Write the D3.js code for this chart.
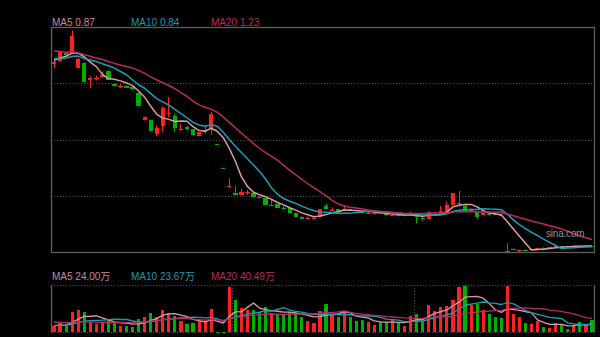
<!DOCTYPE html>
<html>
<head>
<meta charset="utf-8">
<script src="https://cdn.jsdelivr.net/npm/d3@7"></script>
<style>
  html, body { margin: 0; padding: 0; background: #000; }
  svg { display: block; }
  text { font-family: "Liberation Sans", Arial, "Noto Sans CJK SC", sans-serif; }
</style>
</head>
<body>
<svg id="chart" width="600" height="337"></svg>
<script>
// Daily sessions, oldest first
const opens = [10.89,11.05,11.49,11.46,10.67,10.94,9.99,10.06,10.17,10.50,
  9.80,9.66,9.68,9.60,9.31,7.79,7.82,7.05,7.46,8.16,
  8.01,7.24,7.42,7.29,6.91,7.13,7.37,6.49,5.19,4.15,
  3.77,3.66,3.81,3.81,3.59,3.50,3.11,3.17,2.96,2.95,
  2.71,2.49,2.42,2.39,2.45,3.08,2.84,2.89,2.87,2.89,
  2.83,2.82,2.69,2.64,2.68,2.64,2.56,2.58,2.54,2.56,
  2.62,2.40,2.38,2.61,2.64,2.76,3.13,3.19,3.08,2.84,
  2.76,2.58,2.66,2.62,2.60,0.55,0.66,0.58,0.68,0.68,
  0.68,0.79,0.77,0.80,0.88,0.87,0.85,0.89,0.86,0.89];
const highs = [11.11,11.63,11.52,12.73,11.22,10.97,10.20,10.25,10.48,10.53,
  9.81,9.77,9.69,9.66,9.32,8.00,7.83,7.51,8.56,9.07,
  8.15,7.60,7.48,7.31,7.15,7.48,8.25,6.49,5.19,4.60,
  4.18,4.05,3.96,3.82,3.60,3.52,3.41,3.19,3.08,2.97,
  2.72,2.50,2.50,2.44,2.91,3.19,3.00,2.91,3.13,2.91,
  2.86,2.83,2.77,2.72,2.72,2.66,2.66,2.60,2.64,2.76,
  2.66,2.49,2.78,2.72,3.08,3.31,3.80,3.90,3.19,2.94,
  2.77,2.72,2.70,2.66,2.64,1.02,0.75,0.66,0.69,0.71,
  0.76,0.80,0.81,0.88,0.89,0.88,0.90,0.90,0.89,0.90];
const lows = [10.67,11.00,11.35,11.44,10.64,9.87,9.57,9.98,10.14,10.01,
  9.66,9.57,9.57,9.44,8.55,7.78,7.17,6.91,7.13,7.97,
  7.15,7.23,7.24,6.95,6.90,7.05,6.98,6.49,5.19,4.15,
  3.70,3.65,3.68,3.57,3.49,3.11,3.08,2.95,2.86,2.69,
  2.47,2.36,2.39,2.36,2.44,2.88,2.82,2.75,2.82,2.80,
  2.78,2.66,2.66,2.62,2.64,2.55,2.55,2.50,2.51,2.53,
  2.12,2.27,2.36,2.58,2.62,2.75,3.11,3.04,2.82,2.80,
  2.35,2.55,2.60,2.57,2.55,0.55,0.64,0.56,0.65,0.67,
  0.67,0.76,0.76,0.79,0.85,0.84,0.84,0.85,0.85,0.86];
const closes = [10.97,11.55,11.38,12.40,11.16,9.90,10.12,10.14,10.26,10.02,
  9.68,9.69,9.58,9.51,8.56,7.97,7.18,7.38,8.48,8.19,
  7.37,7.33,7.33,6.96,7.13,7.24,8.11,6.49,5.19,4.19,
  3.70,3.86,3.83,3.59,3.50,3.13,3.14,2.97,2.94,2.71,
  2.49,2.38,2.44,2.41,2.89,2.89,2.86,2.76,2.89,2.82,
  2.81,2.67,2.71,2.71,2.66,2.56,2.59,2.53,2.58,2.64,
  2.45,2.37,2.76,2.65,2.82,3.13,3.78,3.22,2.82,2.86,
  2.45,2.70,2.62,2.59,2.57,0.58,0.70,0.63,0.66,0.70,
  0.75,0.77,0.80,0.87,0.86,0.85,0.89,0.86,0.88,0.87];
// Volume, in 万 shares
const volumes = [18.66,28.70,19.52,59.41,64.00,59.41,31.57,25.83,30.14,35.30,
  30.14,18.66,19.52,16.36,38.75,43.91,55.39,45.92,65.15,56.83,
  46.78,33.87,25.83,26.69,36.45,30.14,67.45,1.44,0.86,132.02,
  94.71,69.74,63.71,65.15,57.97,72.61,56.54,53.10,51.66,58.84,
  58.84,45.35,33.01,28.13,61.71,81.22,53.10,43.91,61.13,44.49,
  33.87,36.45,30.71,22.96,29.56,29.27,35.30,29.27,19.52,46.78,
  52.52,34.44,79.50,62.57,72.61,76.63,92.70,132.02,134.32,79.50,
  81.60,65.70,54.50,45.66,42.72,133.45,53.03,43.31,27.40,25.73,
  32.50,17.22,14.35,27.66,24.97,11.48,20.66,30.14,22.10,35.62];
// The 19 sessions before the first drawn one (used only by the moving averages)
const priorCloses = [12.21,12.10,11.93,12.15,11.99,11.88,12.04,11.99,12.10,11.88,
  11.38,11.22,11.33,11.11,11.30,10.91,10.91,11.49,11.16];
const priorVolumes = [45.92,34.44,51.66,40.18,31.57,48.79,37.31,43.05,34.44,40.18,
  22.96,17.22,20.09,17.22,20.09,20.09,18.66,20.09,20.09];
const maPeriods = [5, 10, 20];
const maLabels = ["MA5", "MA10", "MA20"];
const volumeUnit = "万";
const periodBreaks = [30, 60];   // first session of each new period
const watermark = "sina.com";

// ---- layout & style ----
const left = 51, right = 595;
const priceTop = 27, priceBottom = 252;
const volTop = 285, volBottom = 332.5;
const upColor = "#ff2020", downColor = "#00b000";
const maLineColors = ["#d99aaa", "#1c9db4", "#b82a60"];
const maTextColors = ["#c8879a", "#1c98ae", "#b82a62"];
const frameColor = "#5e5e5e", gridColor = "#4a4a4a";

const svg = d3.select("#chart");
const n = closes.length;
const idx = d3.range(n);

const x = d3.scaleBand().domain(idx).range([left, right]).paddingInner(0.28).paddingOuter(0.14);
const cx = i => x(i) + x.bandwidth() / 2;
const y = d3.scaleLinear().domain([d3.min(lows), d3.max(highs)]).range([priceBottom - 0.1, priceTop + 3.5]);
const v = d3.scaleLinear().domain([0, d3.max(volumes)]).range([volBottom, volTop + 0.8]);

function movingAverage(prior, values, p) {
  const all = prior.concat(values);
  const off = prior.length;
  return values.map((_, i) => {
    const end = off + i + 1, start = end - p;
    return start < 0 ? null : d3.mean(all.slice(start, end));
  });
}

const isUp = i => {
  if (closes[i] !== opens[i]) return closes[i] > opens[i];
  const prev = i > 0 ? closes[i - 1] : priorCloses[priorCloses.length - 1];
  return closes[i] >= prev;
};
const colorOf = i => isUp(i) ? upColor : downColor;

// ---- price panel frame & grid ----
const gridG = svg.append("g");
const bandH = (priceBottom - priceTop) / 4;
[1, 2, 3].forEach(k => {
  const gy = Math.round(priceTop + k * bandH) + 0.5;
  gridG.append("line").attr("x1", left).attr("x2", right).attr("y1", gy).attr("y2", gy)
    .attr("stroke", gridColor).attr("stroke-width", 1.2).attr("stroke-dasharray", "1.2,1.8");
});
svg.append("rect").attr("x", left + 0.5).attr("y", priceTop + 0.5)
  .attr("width", right - left - 1).attr("height", priceBottom - priceTop)
  .attr("fill", "none").attr("stroke", frameColor).attr("stroke-width", 1.3);

// ---- volume panel frame ----
const vf = svg.append("g");
[volTop + 0.5, volBottom].forEach(yy => {
  vf.append("line").attr("x1", left).attr("x2", right).attr("y1", yy).attr("y2", yy)
    .attr("stroke", gridColor).attr("stroke-width", 1.2).attr("stroke-dasharray", "1.2,1.8");
});
[left + 0.5, right - 0.5].forEach(xx => {
  vf.append("line").attr("x1", xx).attr("x2", xx).attr("y1", volTop).attr("y2", volBottom)
    .attr("stroke", frameColor).attr("stroke-width", 1.3);
});
periodBreaks.forEach(b => {
  const bx = Math.round((cx(b - 1) + cx(b)) / 2) + 0.5;
  vf.append("line").attr("x1", bx).attr("x2", bx).attr("y1", volTop).attr("y2", volBottom)
    .attr("stroke", gridColor).attr("stroke-width", 1.2).attr("stroke-dasharray", "1.2,1.8");
});

// ---- candles ----
const cg = svg.append("g");
idx.forEach(i => {
  const col = colorOf(i);
  const wx = Math.floor(cx(i)) + 0.5;
  cg.append("line").attr("x1", wx).attr("x2", wx)
    .attr("y1", y(highs[i])).attr("y2", y(lows[i]))
    .attr("stroke", col).attr("stroke-width", 1);
  const top = y(Math.max(opens[i], closes[i]));
  const h = Math.max(1, Math.abs(y(opens[i]) - y(closes[i])));
  cg.append("rect").attr("x", x(i)).attr("y", top)
    .attr("width", x.bandwidth()).attr("height", h)
    .attr("fill", col).attr("shape-rendering", "crispEdges");
});

// ---- price moving averages ----
const priceMAs = maPeriods.map(p => movingAverage(priorCloses, closes, p));
priceMAs.forEach((ma, k) => {
  const line = d3.line().defined(d => d != null).x((d, i) => cx(i)).y(d => y(d));
  svg.append("path").attr("d", line(ma)).attr("fill", "none")
    .attr("stroke", maLineColors[k]).attr("stroke-width", 1.5).attr("stroke-linejoin", "round");
});

// ---- volume bars ----
const vg = svg.append("g");
const vbw = x.bandwidth() * 0.72;
idx.forEach(i => {
  const top = v(volumes[i]);
  vg.append("rect").attr("x", cx(i) - vbw / 2).attr("y", top)
    .attr("width", vbw).attr("height", Math.max(0.6, volBottom - 0.5 - top))
    .attr("fill", colorOf(i)).attr("shape-rendering", "crispEdges");
});

// ---- volume moving averages ----
const volMAs = maPeriods.map(p => movingAverage(priorVolumes, volumes, p));
volMAs.forEach((ma, k) => {
  const line = d3.line().defined(d => d != null).x((d, i) => cx(i)).y(d => v(d));
  svg.append("path").attr("d", line(ma)).attr("fill", "none")
    .attr("stroke", maLineColors[k]).attr("stroke-width", 1.3).attr("stroke-linejoin", "round");
});

// ---- legends ----
const legendX = [52, 131, 211];
maLabels.forEach((lab, k) => {
  const pm = priceMAs[k][n - 1];
  svg.append("text").attr("x", legendX[k]).attr("y", 25.5)
    .attr("font-size", 10).attr("fill", maTextColors[k])
    .text(`${lab} ${pm.toFixed(2)}`);
  const vm = volMAs[k][n - 1];
  svg.append("text").attr("x", legendX[k]).attr("y", 280)
    .attr("font-size", 10).attr("fill", maTextColors[k])
    .text(`${lab} ${vm.toFixed(2)}${volumeUnit}`);
});

// ---- watermark ----
svg.append("text").attr("x", 546).attr("y", 236.5)
  .attr("font-size", 10).attr("fill", "#8f8f8f").attr("letter-spacing", -0.2)
  .text(watermark);
</script>
</body>
</html>
